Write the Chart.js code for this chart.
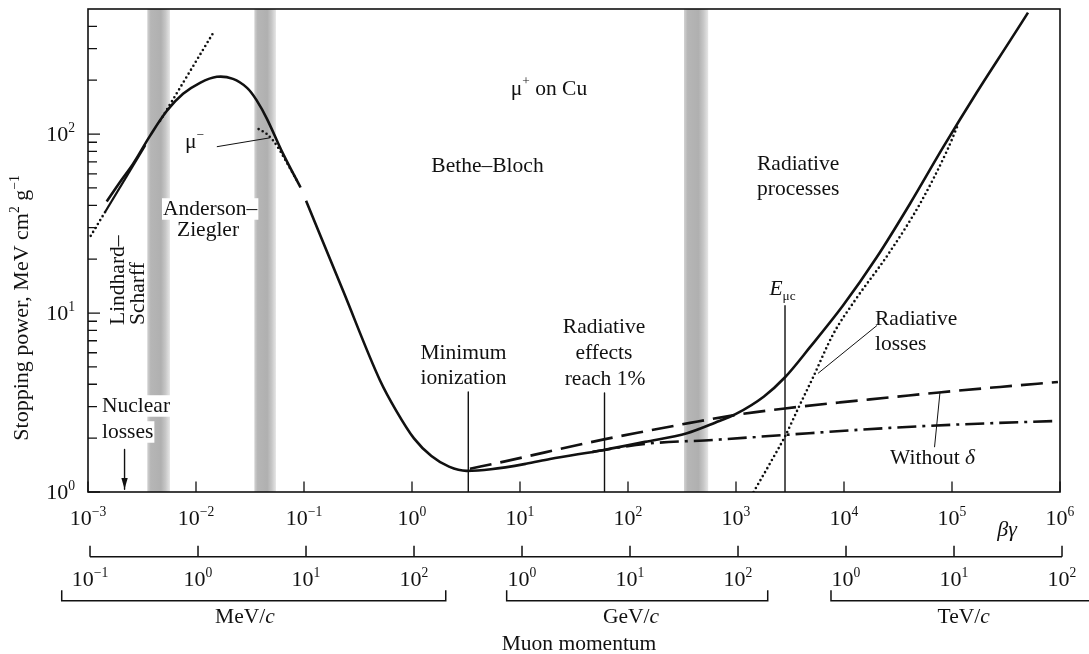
<!DOCTYPE html>
<html lang="en">
<head>
<meta charset="UTF-8">
<title>Stopping power for positive muons in copper</title>
<script src="https://cdn.jsdelivr.net/npm/chart.js"></script>
<style>
  html, body { margin: 0; padding: 0; background: #fff; }
  #wrap { width: 1089px; height: 654px; }
</style>
</head>
<body>
<div id="wrap"><canvas id="chart" width="1089" height="654"></canvas></div>
<script>
// beta*gamma vs stopping power (MeV cm^2/g), mu+ on Cu

// low-energy branch (Anderson-Ziegler region)
const lowBg = [0.00149, 0.00198, 0.00262, 0.00375, 0.00538, 0.00759, 0.0109, 0.0156, 0.0220, 0.0297, 0.0367, 0.0454, 0.0639, 0.0929];
const lowS  = [42.0, 54.0, 68.3, 97.7, 134.9, 167.8, 193.4, 208.9, 203.5, 181.3, 153.4, 121.7, 77.7, 50.3];

// Bethe-Bloch + radiative branch
const highBg = [0.1045, 0.2296, 0.506, 0.711, 1.043, 1.512, 2.201, 3.196, 5.38, 11.36, 18.96, 59.9, 143.6, 351.6, 639.8, 1000, 1816, 2843, 4845, 9790, 20090, 40850, 82600, 169400, 344000, 505500];
const highS  = [42.4, 13.35, 4.20, 2.86, 1.994, 1.588, 1.386, 1.313, 1.339, 1.437, 1.530, 1.718, 1.906, 2.132, 2.44, 2.732, 3.42, 4.377, 6.445, 11.01, 20.48, 40.8, 84.2, 170.7, 331.7, 477];

// ionization without density-effect correction (dashed)
const noDeltaBg = [3.44, 7.26, 17.04, 59.9, 143.6, 375, 1000, 2843, 9180, 26660, 75900, 278000, 957000];
const noDeltaS  = [1.348, 1.483, 1.665, 1.968, 2.182, 2.433, 2.697, 2.931, 3.167, 3.377, 3.601, 3.864, 4.12];

// ionization with density effect (dash-dot)
const withDeltaBg = [46.9, 143.6, 639.8, 2843, 26660, 118600, 957000];
const withDeltaS  = [1.676, 1.858, 1.956, 2.085, 2.282, 2.386, 2.497];

// radiative losses (dotted)
const radBg = [1455, 2143, 2843, 3917, 5164, 7907, 12600, 25540, 50550, 89900, 113700];
const radS  = [1.0, 1.503, 2.046, 3.086, 4.365, 7.586, 11.74, 21.21, 40.83, 80.7, 112.7];

// Lindhard-Scharff line: dotted / solid / dotted pieces
const lindLowBg = [0.00106, 0.00144];
const lindLowS  = [27.0, 36.7];
const lindMidBg = [0.00144, 0.0034];
const lindMidS  = [36.7, 86.7];
const lindHighBg = [0.00465, 0.0144];
const lindHighS  = [118.6, 367];

// mu- (Barkas effect, dotted)
const muMinusBg = [0.0380, 0.0454, 0.0520, 0.0600, 0.0711, 0.0861];
const muMinusS  = [106.6, 100, 91.7, 80.7, 67.4, 54.9];

// vertical markers: minimum ionization, radiative effects 1%, E_muc
const markerBg  = [3.32, 60.6, 2843];
const markerTop = [3.62, 3.58, 11.0];

// nuclear losses arrow
const nuclearBg = [0.00218];
const nuclearTop = [1.73];

// leader lines: mu-, radiative losses, without delta
const leaderBg = [[0.0156, 0.0484], [20200, 5740], [68900, 77400]];
const leaderS  = [[85, 95.3], [8.52, 4.60], [1.78, 3.60]];

// shaded bands
const bandLo = [0.00354, 0.0347, 330];
const bandHi = [0.00574, 0.0550, 553];

// axis ticks
const xExp = [-3, -2, -1, 0, 1, 2, 3, 4, 5, 6];
const yMajor = [1, 10, 100];
const yMajorExp = ['0', '1', '2'];
const yMinor = [2, 3, 4, 5, 6, 7, 8, 9, 20, 30, 40, 50, 60, 70, 80, 90, 200, 300, 400];

// muon momentum axis (MeV/c)
const pTicks = [0.1, 1, 10, 100, 1e3, 1e4, 1e5, 1e6, 1e7, 1e8];
const pExp = ['\u22121', '0', '1', '2', '0', '1', '2', '0', '1', '2'];
const unitNames = ['MeV', 'GeV', 'TeV'];
const unitFrom = [0.0547, 721, 726000];
const unitTo = [196.7, 188400, 2e8];
const unitLabelP = [2.72, 10200, 1.23e7];

const FONT = '"Liberation Serif", "Times New Roman", Times, serif';
const INK = '#111';

function fontOf(p, size) {
  const s = (p.sup || p.sub) ? size * 0.62 : size;
  return (p.it ? 'italic ' : '') + s.toFixed(1) + 'px ' + FONT;
}

// draws text made of pieces, some raised, lowered or italic
function drawRich(ctx, parts, x, y, size, align) {
  const items = parts.map(p => (typeof p === 'string' ? { t: p } : p));
  let w = 0;
  items.forEach(p => { ctx.font = fontOf(p, size); p.w = ctx.measureText(p.t).width; w += p.w; });
  let cx = align === 'center' ? x - w / 2 : (align === 'right' ? x - w : x);
  ctx.textAlign = 'left';
  ctx.textBaseline = 'alphabetic';
  items.forEach(p => {
    ctx.font = fontOf(p, size);
    const dy = p.sup ? -size * 0.42 : (p.sub ? size * 0.22 : 0);
    ctx.fillText(p.t, cx, y + dy);
    cx += p.w;
  });
  return w;
}

function boxedText(ctx, text, x, y, size) {
  ctx.font = size + 'px ' + FONT;
  const w = ctx.measureText(text).width;
  ctx.fillStyle = '#fff';
  ctx.fillRect(x - 1, y - size * 0.78, w + 2, size * 1.0);
  ctx.fillStyle = INK;
  drawRich(ctx, [text], x, y, size, 'left');
}

function series(bg, s, extra) {
  return Object.assign({
    data: bg.map((x, i) => ({ x: x, y: s[i] })),
    xAxisID: 'x', yAxisID: 'y',
    showLine: true, fill: false,
    borderColor: INK, borderWidth: 2.6,
    pointRadius: 0,
    cubicInterpolationMode: 'monotone',
    borderJoinStyle: 'round'
  }, extra || {});
}

const dotted = { borderDash: [0, 4.6], borderCapStyle: 'round', borderWidth: 2.6 };
const thin = { borderWidth: 1.4, cubicInterpolationMode: 'default', tension: 0 };

const datasets = [
  series(lowBg, lowS, { cubicInterpolationMode: 'default', tension: 0.35 }),
  series(highBg, highS),
  series(noDeltaBg, noDeltaS, { borderDash: [22, 9] }),
  series(withDeltaBg, withDeltaS, { borderDash: [19, 6, 3, 6] }),
  series(radBg, radS, dotted),
  series(lindLowBg, lindLowS, Object.assign({}, dotted, { tension: 0 })),
  series(lindMidBg, lindMidS, { borderWidth: 2.2, tension: 0 }),
  series(lindHighBg, lindHighS, Object.assign({}, dotted, { tension: 0 })),
  series(muMinusBg, muMinusS, dotted)
];
markerBg.forEach((b, i) => datasets.push(series([b, b], [markerTop[i], 1], thin)));
leaderBg.forEach((b, i) => datasets.push(series(b, leaderS[i], { borderWidth: 1, tension: 0, cubicInterpolationMode: 'default' })));
nuclearBg.forEach((b, i) => datasets.push(series([b, b], [nuclearTop[i], 1.035], thin)));

const bandsPlugin = {
  id: 'bands',
  beforeDatasetsDraw(chart) {
    const { ctx, chartArea: a, scales: { x } } = chart;
    ctx.save();
    bandLo.forEach((lo, i) => {
      const x0 = x.getPixelForValue(lo), x1 = x.getPixelForValue(bandHi[i]);
      const g = ctx.createLinearGradient(x0, 0, x1, 0);
      g.addColorStop(0, '#d2d2d2');
      g.addColorStop(0.15, '#b6b6b6');
      g.addColorStop(0.6, '#b0b0b0');
      g.addColorStop(0.8, '#c6c6c6');
      g.addColorStop(1, '#e6e6e6');
      ctx.fillStyle = g;
      ctx.fillRect(x0, a.top, x1 - x0, a.bottom - a.top);
    });
    ctx.restore();
  }
};

const axesPlugin = {
  id: 'axesAndText',
  afterDatasetsDraw(chart) {
    const { ctx, chartArea: a, scales: { x, y, xp } } = chart;
    ctx.save();
    ctx.strokeStyle = INK;
    ctx.fillStyle = INK;

    // nuclear losses arrowhead
    nuclearBg.forEach(b => {
      const px = x.getPixelForValue(b), tip = y.getPixelForValue(1) - 3;
      ctx.beginPath();
      ctx.moveTo(px, tip);
      ctx.lineTo(px - 3.2, tip - 11);
      ctx.lineTo(px + 3.2, tip - 11);
      ctx.closePath();
      ctx.fill();
    });

    // frame
    ctx.lineWidth = 1.6;
    ctx.strokeRect(a.left, a.top, a.right - a.left, a.bottom - a.top);

    // y ticks
    ctx.lineWidth = 1.3;
    ctx.beginPath();
    yMajor.forEach(v => { const py = y.getPixelForValue(v); ctx.moveTo(a.left, py); ctx.lineTo(a.left + 12, py); });
    yMinor.forEach(v => { const py = y.getPixelForValue(v); ctx.moveTo(a.left, py); ctx.lineTo(a.left + 9, py); });
    // x ticks
    xExp.forEach(e => { const px = x.getPixelForValue(Math.pow(10, e)); ctx.moveTo(px, a.bottom); ctx.lineTo(px, a.bottom - 10.5); });
    ctx.stroke();

    // tick labels
    yMajor.forEach((v, i) => drawRich(ctx, ['10', { t: yMajorExp[i], sup: true }], 75, y.getPixelForValue(v) + 7, 22, 'right'));
    xExp.forEach(e => {
      const s = e < 0 ? '\u2212' + (-e) : String(e);
      drawRich(ctx, ['10', { t: s, sup: true }], x.getPixelForValue(Math.pow(10, e)), 525, 22, 'center');
    });
    drawRich(ctx, [{ t: '\u03b2\u03b3', it: true }], 1007, 536, 22, 'center');

    // momentum axis
    const pLine = 556.7;
    ctx.lineWidth = 1.5;
    ctx.beginPath();
    ctx.moveTo(xp.getPixelForValue(pTicks[0]), pLine);
    ctx.lineTo(xp.getPixelForValue(pTicks[pTicks.length - 1]), pLine);
    pTicks.forEach(p => { const px = xp.getPixelForValue(p); ctx.moveTo(px, pLine); ctx.lineTo(px, pLine - 11); });
    ctx.stroke();
    pTicks.forEach((p, i) => drawRich(ctx, ['10', { t: pExp[i], sup: true }], xp.getPixelForValue(p), 586, 22, 'center'));

    // unit brackets
    const bLine = 600.7;
    ctx.beginPath();
    unitNames.forEach((u, i) => {
      const x0 = xp.getPixelForValue(unitFrom[i]), x1 = xp.getPixelForValue(unitTo[i]);
      ctx.moveTo(x0, bLine - 10.5); ctx.lineTo(x0, bLine); ctx.lineTo(x1, bLine); ctx.lineTo(x1, bLine - 10.5);
    });
    ctx.stroke();
    unitNames.forEach((u, i) => drawRich(ctx, [u + '/', { t: 'c', it: true }], xp.getPixelForValue(unitLabelP[i]), 623, 21.5, 'center'));
    drawRich(ctx, ['Muon momentum'], 579, 650, 21.5, 'center');

    // y axis title
    ctx.save();
    ctx.translate(28, 308);
    ctx.rotate(-Math.PI / 2);
    drawRich(ctx, ['Stopping power, MeV cm', { t: '2', sup: true }, ' g', { t: '\u22121', sup: true }], 0, 0, 22, 'center');
    ctx.restore();

    // annotations
    const fs = 21.5;
    drawRich(ctx, ['\u03bc', { t: '+', sup: true }, ' on Cu'], 549, 94.5, fs, 'center');
    drawRich(ctx, ['Bethe\u2013Bloch'], 487.5, 171.7, fs, 'center');
    drawRich(ctx, ['Radiative'], 757, 170, fs, 'left');
    drawRich(ctx, ['processes'], 757, 195, fs, 'left');
    drawRich(ctx, ['Minimum'], 463.5, 358.5, fs, 'center');
    drawRich(ctx, ['ionization'], 463.5, 384, fs, 'center');
    drawRich(ctx, ['Radiative'], 604, 333.3, fs, 'center');
    drawRich(ctx, ['effects'], 604, 359, fs, 'center');
    drawRich(ctx, ['reach 1%'], 605, 385, fs, 'center');
    drawRich(ctx, [{ t: 'E', it: true }, { t: '\u03bcc', sub: true }], 782.5, 295, fs, 'center');
    drawRich(ctx, ['Radiative'], 875, 325, fs, 'left');
    drawRich(ctx, ['losses'], 875, 350, fs, 'left');
    drawRich(ctx, ['Without ', { t: '\u03b4', it: true }], 890, 464, fs, 'left');
    drawRich(ctx, ['\u03bc', { t: '\u2212', sup: true }], 185, 148, fs, 'left');
    boxedText(ctx, 'Nuclear', 102, 412, fs);
    boxedText(ctx, 'losses', 102, 438, fs);
    boxedText(ctx, 'Anderson\u2013', 163, 215, fs);
    boxedText(ctx, 'Ziegler', 177, 236, fs);

    ctx.save();
    ctx.translate(124, 325);
    ctx.rotate(-Math.PI / 2);
    drawRich(ctx, ['Lindhard\u2013'], 0, 0, fs, 'left');
    ctx.restore();
    ctx.save();
    ctx.translate(144, 325);
    ctx.rotate(-Math.PI / 2);
    drawRich(ctx, ['Scharff'], 0, 0, fs, 'left');
    ctx.restore();

    ctx.restore();
  }
};

const chart = new Chart(document.getElementById('chart').getContext('2d'), {
  type: 'scatter',
  data: { datasets: datasets },
  options: {
    responsive: false,
    animation: false,
    devicePixelRatio: 1,
    events: [],
    layout: { padding: { left: 88, top: 9, right: 29, bottom: 162 } },
    plugins: { legend: { display: false }, tooltip: { enabled: false } },
    scales: {
      x: { type: 'logarithmic', min: 1e-3, max: 1e6, display: false },
      y: { type: 'logarithmic', min: 1, max: 500, display: false },
      xp: { type: 'logarithmic', axis: 'x', min: 0.0958, max: 9.58e7, display: false }
    }
  },
  plugins: [bandsPlugin, axesPlugin]
});
</script>
</body>
</html>
